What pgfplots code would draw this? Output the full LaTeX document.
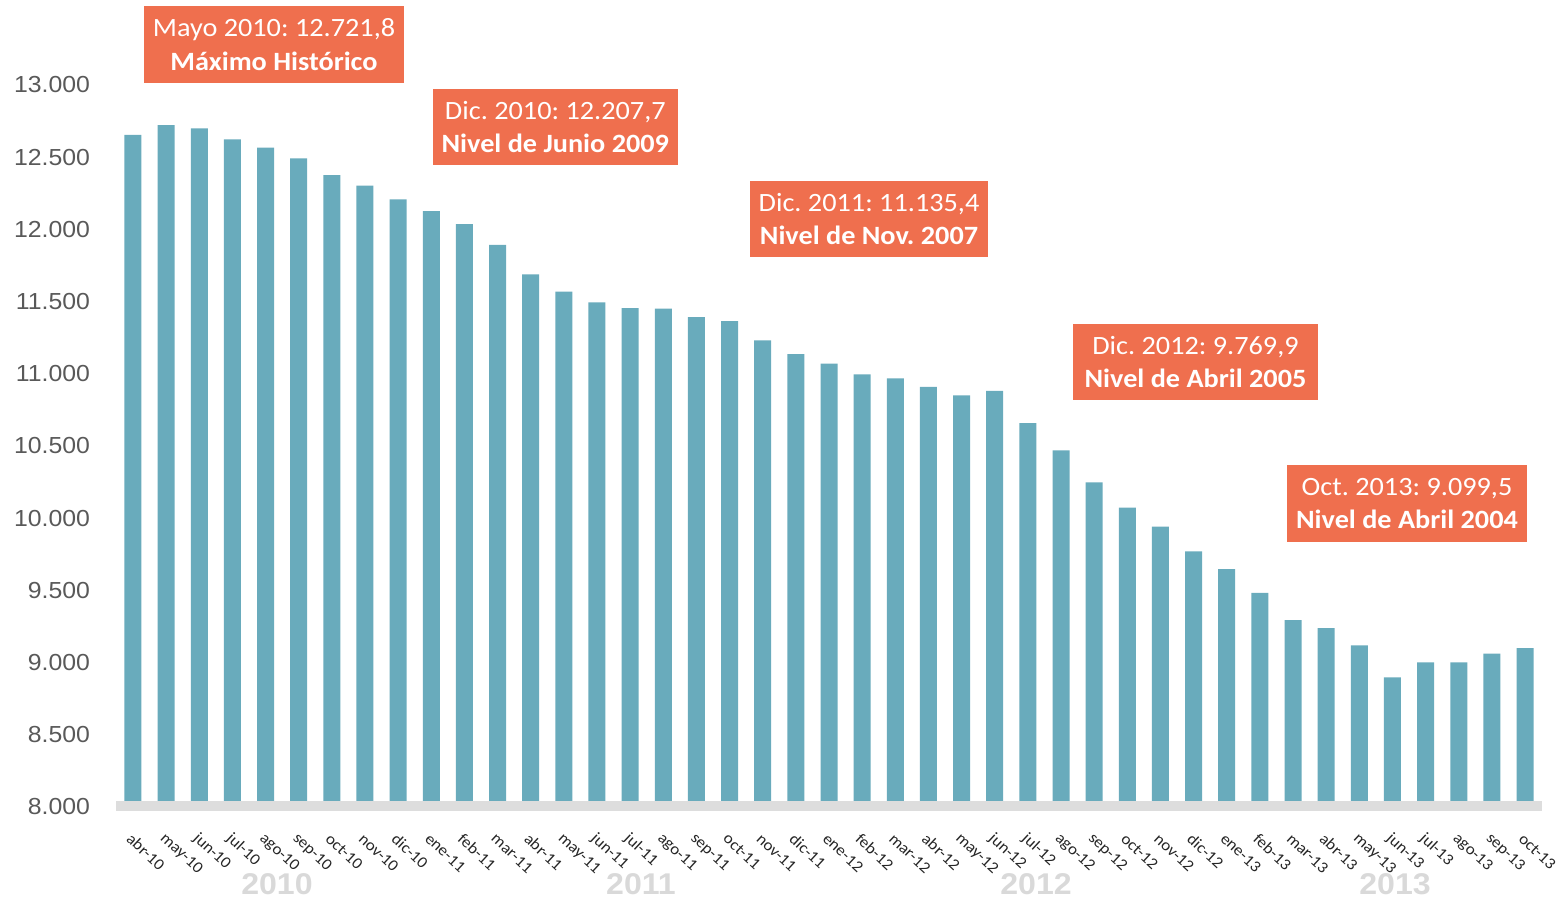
\documentclass[border=0pt]{standalone}
\usepackage{pgfplots}
\pgfplotsset{compat=1.18}
\usepackage{fontspec}
\setmainfont{Carlito}[FakeStretch=1.07]
\newfontfamily\arialf{Liberation Sans}[FakeStretch=1.07]
\definecolor{barc}{HTML}{69ABBC}
\definecolor{boxc}{HTML}{EF6F4E}
\definecolor{bandc}{HTML}{DDDDDD}
\definecolor{yearc}{HTML}{D9D9D9}
\definecolor{tickc}{HTML}{595959}
\definecolor{monc}{HTML}{262626}
\frenchspacing
\begin{document}
\begin{tikzpicture}
\useasboundingbox (0,0) rectangle (781pt,450pt);
\begin{axis}[
  at={(58.2pt,46.5pt)}, anchor=south west,
  scale only axis, width=712.6pt, height=361pt,
  xmin=-0.5, xmax=42.5, ymin=8000, ymax=13000,
  axis line style={draw=none},
  major tick length=0pt,
  scaled y ticks=false,
  ybar, bar width=8.5pt,
  ytick={8000,8500,9000,9500,10000,10500,11000,11500,12000,12500,13000},
  yticklabels={8.000,8.500,9.000,9.500,10.000,10.500,11.000,11.500,12.000,12.500,13.000},
  yticklabel style={font=\arialf\fontsize{11.6}{13}\selectfont, text=tickc, inner sep=0pt, anchor=east, xshift=-13pt},
  xtick={0,...,42},
  xticklabels={abr-10,may-10,jun-10,jul-10,ago-10,sep-10,oct-10,nov-10,dic-10,ene-11,feb-11,mar-11,abr-11,may-11,jun-11,jul-11,ago-11,sep-11,oct-11,nov-11,dic-11,ene-12,feb-12,mar-12,abr-12,may-12,jun-12,jul-12,ago-12,sep-12,oct-12,nov-12,dic-12,ene-13,feb-13,mar-13,abr-13,may-13,jun-13,jul-13,ago-13,sep-13,oct-13},
  xticklabel style={font=\fontsize{8}{9.6}\selectfont, text=monc, inner sep=0pt, anchor=west, xshift=-2pt, yshift=-14.5pt, rotate=-43},
]
\addplot[fill=barc, draw=none, bar shift=0pt] coordinates {
(0,12654) (1,12721.8) (2,12700) (3,12624) (4,12566) (5,12492) (6,12375) (7,12303) (8,12207.7)
(9,12127) (10,12037) (11,11892) (12,11689) (13,11569) (14,11495) (15,11454) (16,11451) (17,11393) (18,11364) (19,11232) (20,11135.4)
(21,11070) (22,10996) (23,10969) (24,10909) (25,10851) (26,10881) (27,10659) (28,10470) (29,10248) (30,10073) (31,9942) (32,9769.9)
(33,9648) (34,9482) (35,9295) (36,9238) (37,9120) (38,8898) (39,9002) (40,9002) (41,9062) (42,9099.5)
};
\end{axis}
\draw[bandc, line width=5pt] (58.2pt,47pt) -- (770.8pt,47pt);
\tikzset{ann/.style={fill=boxc, text=white, align=center, inner sep=0pt, font=\fontsize{13.2}{16.85}\selectfont}}
\node[ann, minimum width=130pt, minimum height=38.3pt] at (137pt,427.85pt) {Mayo 2010: 12.721,8\\\textbf{Máximo Histórico}};
\node[ann, minimum width=122.5pt, minimum height=38pt] at (277.65pt,386.5pt) {Dic. 2010: 12.207,7\\\textbf{Nivel de Junio 2009}};
\node[ann, minimum width=119pt, minimum height=38pt] at (434.5pt,340.5pt) {Dic. 2011: 11.135,4\\\textbf{Nivel de Nov. 2007}};
\node[ann, minimum width=122.5pt, minimum height=38pt] at (597.75pt,269pt) {Dic. 2012: 9.769,9\\\textbf{Nivel de Abril 2005}};
\node[ann, minimum width=120pt, minimum height=38.5pt] at (703.5pt,198.25pt) {Oct. 2013: 9.099,5\\\textbf{Nivel de Abril 2004}};
\tikzset{yr/.style={font=\arialf\bfseries\fontsize{15}{18}\selectfont, text=yearc, inner sep=0pt}}
\node[yr] at (138.5pt,8pt) {2010};
\node[yr] at (320.5pt,8pt) {2011};
\node[yr] at (518pt,8pt) {2012};
\node[yr] at (697.5pt,8pt) {2013};
\end{tikzpicture}
\end{document}
